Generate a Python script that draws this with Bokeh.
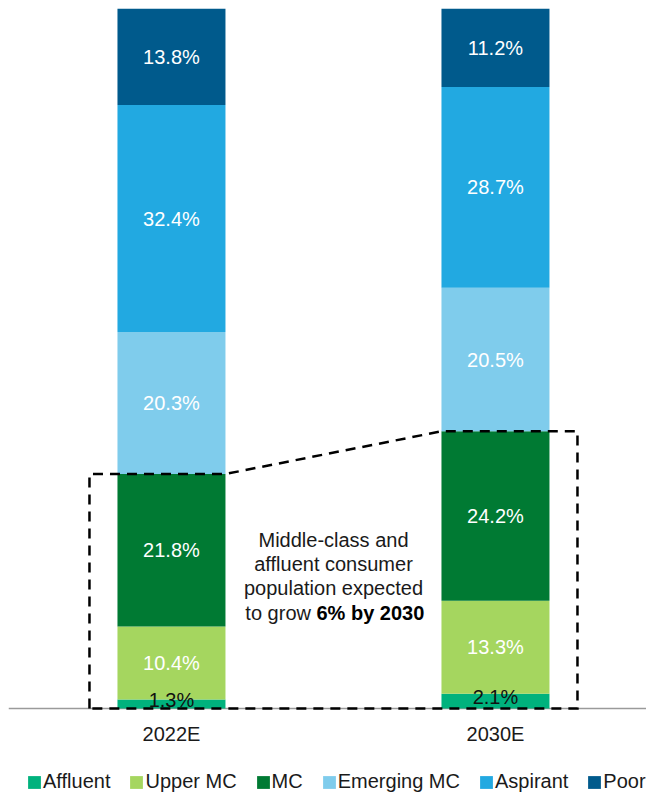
from bokeh.plotting import figure
from bokeh.models import Range1d, FixedTicker, Legend, LegendItem, ColumnDataSource, Span
from bokeh.core.properties import value
from bokeh.embed import file_html
from bokeh.resources import INLINE

# ---- data ----
years = ["2022E", "2030E"]
segments = ["Affluent", "Upper MC", "MC", "Emerging MC", "Aspirant", "Poor"]
affluent = [1.3, 2.1]
upper_mc = [10.4, 13.3]
mc = [21.8, 24.2]
emerging_mc = [20.3, 20.5]
aspirant = [32.4, 28.7]
poor = [13.8, 11.2]
note_lines = ["Middle-class and", "affluent consumer", "population expected"]
note_last_plain = "to grow "
note_last_bold = "6% by 2030"

series = [affluent, upper_mc, mc, emerging_mc, aspirant, poor]
colors = ["#00B27D", "#A5D65F", "#007A33", "#7FCCEC", "#22A9E1", "#005A8C"]
label_colors = ["#111111", "white", "white", "white", "white", "white"]

FONT = "Liberation Sans"
FRAME_W = 638
FRAME_H = 787          # frame runs from the top of the bars to the bottom of the page
TOP, LEFT = 8, 8
PX_PER_Y = 7.0         # 1 percentage point = 7 px
BASE_PX = 700          # baseline is 700 px below the frame top
px_per_unit = 324.0
x_start = -0.003
x_end = x_start + FRAME_W / px_per_unit
bar_w = 108 / px_per_unit
xpos = [i + 0.5 for i in range(len(years))]

p = figure(frame_width=FRAME_W, frame_height=FRAME_H, output_backend="svg",
           toolbar_location=None,
           x_range=Range1d(x_start, x_end),
           y_range=Range1d(-(FRAME_H - BASE_PX) / PX_PER_Y, 100),
           min_border_left=LEFT, min_border_right=0, min_border_top=TOP,
           min_border_bottom=0)
p.outline_line_color = None
p.grid.visible = False
p.yaxis.visible = False
p.background_fill_color = "white"
p.border_fill_color = "white"

# baseline
base = Span(location=0, dimension="width", line_color="#9a9a9a", line_width=1.5, level="underlay")
p.add_layout(base)

data = {"x": xpos}
for name, vals in zip(segments, series):
    data[name] = vals
src = ColumnDataSource(data)
renderers = p.vbar_stack(segments, x="x", width=bar_w, fill_color=colors,
                         line_color=None, source=src)

# value labels
lx, ly, lt, lc, lo = [], [], [], [], []
for i, x in enumerate(xpos):
    b = 0.0
    for k, vals in enumerate(series):
        v = vals[i]
        lx.append(x)
        ly.append(b + v / 2)
        lt.append(f"{v:.1f}%")
        lc.append(label_colors[k])
        lo.append(-4 if k == 0 else 0)
        b += v
p.text(x=lx, y=ly, text=lt, text_color=lc, y_offset=lo, text_align="center",
       text_baseline="middle", text_font=value(FONT), text_font_size=value("20px"))

# dashed highlight outline
pad = 28 / px_per_unit
top0 = affluent[0] + upper_mc[0] + mc[0]
top1 = affluent[1] + upper_mc[1] + mc[1]
bx = [xpos[0] - bar_w / 2 - pad, xpos[0] - bar_w / 2 - pad, xpos[0] + bar_w / 2,
      xpos[1] - bar_w / 2, xpos[1] + bar_w / 2 + pad, xpos[1] + bar_w / 2 + pad]
by = [0, top0, top0, top1, top1, 0]
p.patch(bx, by, fill_color=None, line_color="black", line_width=2.5, line_dash="10 7",
        line_join="miter")

# annotation
note_x = x_start + 325 / px_per_unit
note_y = [24.14, 20.67, 17.2]
p.text(x=[note_x] * 3, y=note_y, text=note_lines, text_align="center",
       text_baseline="alphabetic", text_color="#1a1a1a",
       text_font=value(FONT), text_font_size=value("20px"))
split_x = x_start + 308 / px_per_unit
p.text(x=[split_x], y=[13.71], text=[note_last_plain], text_align="right",
       text_baseline="alphabetic", text_color="#1a1a1a",
       text_font=value(FONT), text_font_size=value("20px"))
p.text(x=[split_x], y=[13.71], text=[note_last_bold], text_align="left",
       text_baseline="alphabetic", text_color="#000000", text_font_style="bold",
       text_font=value(FONT), text_font_size=value("20px"))

# x axis, pinned to the baseline (y = 0)
ax = p.xaxis[0]
ax.fixed_location = 0
ax.ticker = FixedTicker(ticks=xpos)
ax.major_label_overrides = {xv: yr for xv, yr in zip(xpos, years)}
ax.axis_line_color = None
ax.major_tick_line_color = None
ax.minor_tick_line_color = None
ax.major_tick_out = 0
ax.major_tick_in = 0
ax.major_label_standoff = 14
ax.major_label_text_font = FONT
ax.major_label_text_font_size = "20px"
ax.major_label_text_color = "#1a1a1a"

# legend at the bottom of the frame
items = [LegendItem(label=s, renderers=[r]) for s, r in zip(segments, renderers)]
legend = Legend(items=items, orientation="horizontal", location=(18, 2),
                glyph_width=16, glyph_height=16, label_standoff=1, spacing=18,
                padding=0, margin=0, border_line_color=None, background_fill_alpha=0,
                label_text_font=FONT, label_text_font_size="20px",
                label_text_color="#1a1a1a")
p.add_layout(legend)

open("out.html", "w").write(file_html(p, INLINE))
